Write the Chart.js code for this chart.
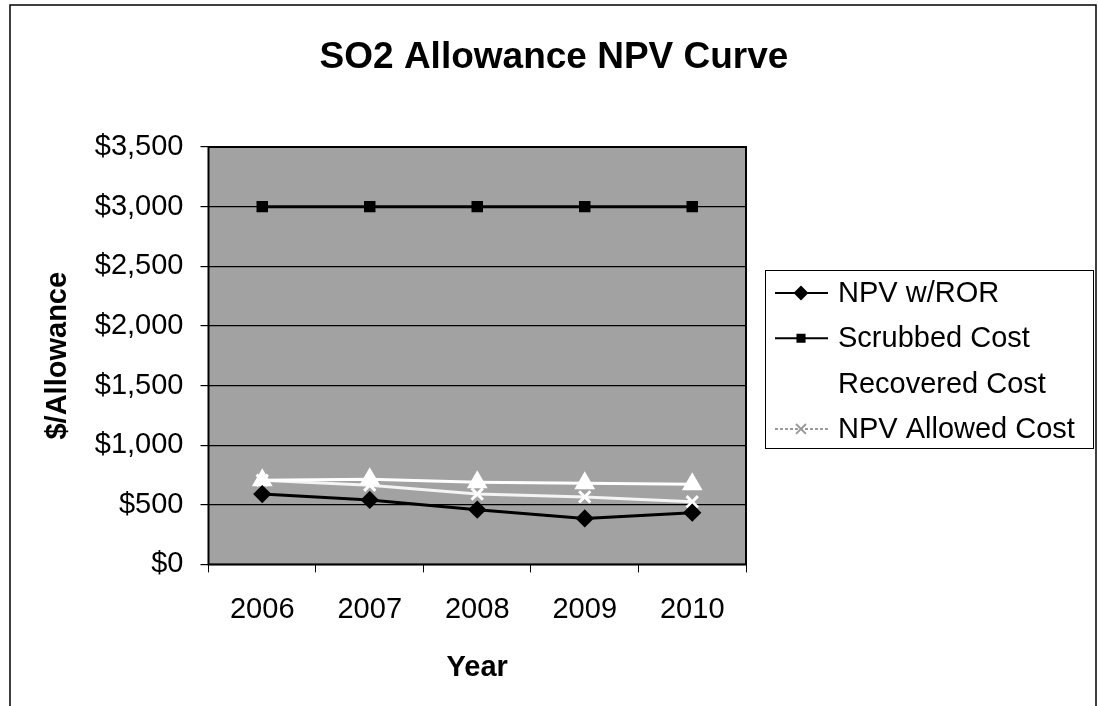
<!DOCTYPE html>
<html>
<head>
<meta charset="utf-8">
<script src="https://cdn.jsdelivr.net/npm/chart.js@4.4.1/dist/chart.umd.min.js"></script>
<style>
  html, body { margin: 0; padding: 0; background: #ffffff; }
  #wrap { width: 1099px; height: 706px; }
</style>
</head>
<body>
<div id="wrap"><canvas id="npvChart" width="1099" height="706"></canvas></div>
<script>
// values
const years = ['2006', '2007', '2008', '2009', '2010'];
const npvWithRor = [590, 541, 459, 385, 434];
const scrubbedCost = [3000, 3000, 3000, 3000, 3000];
const recoveredCost = [705, 713, 689, 680, 672];
const npvAllowedCost = [705, 664, 590, 566, 525];
const yTicks = [0, 500, 1000, 1500, 2000, 2500, 3000, 3500];

const FONT = '"Liberation Sans", Arial, Helvetica, sans-serif';

function money(v) {
    return '$' + v.toLocaleString('en-US');
}

// gray plot area, frame, title and the boxed legend
const decorPlugin = {
    id: 'decor',
    beforeDraw(chart) {
        const ctx = chart.ctx;
        const a = chart.chartArea;
        ctx.save();
        ctx.fillStyle = '#ffffff';
        ctx.fillRect(0, 0, chart.width, chart.height);
        ctx.fillStyle = '#a2a2a2';
        ctx.fillRect(a.left, a.top, a.right - a.left, a.bottom - a.top);
        ctx.restore();
    },
    afterDraw(chart) {
        const ctx = chart.ctx;
        const a = chart.chartArea;
        ctx.save();

        // plot border
        ctx.strokeStyle = '#000000';
        ctx.lineWidth = 2;
        ctx.strokeRect(a.left, a.top, a.right - a.left, a.bottom - a.top);

        // outer frame
        ctx.lineWidth = 1.5;
        ctx.beginPath();
        ctx.moveTo(10, 706);
        ctx.lineTo(10, 5);
        ctx.lineTo(1096, 5);
        ctx.lineTo(1096, 706);
        ctx.stroke();

        // title
        ctx.fillStyle = '#000000';
        ctx.font = 'bold 37px ' + FONT;
        ctx.textAlign = 'center';
        ctx.textBaseline = 'alphabetic';
        ctx.fillText('SO2 Allowance NPV Curve', 554, 68);

        // legend
        ctx.lineWidth = 1;
        ctx.strokeStyle = '#000000';
        ctx.strokeRect(765.5, 270.5, 328, 178);
        ctx.font = '29px ' + FONT;
        ctx.textAlign = 'left';
        ctx.textBaseline = 'middle';
        chart.data.datasets.forEach((ds, i) => {
            const y = 293 + i * 45.3;
            ctx.strokeStyle = ds.legendColor;
            ctx.fillStyle = ds.legendColor;
            ctx.lineWidth = 2;
            ctx.setLineDash(ds.legendDash || []);
            ctx.beginPath();
            ctx.moveTo(775, y);
            ctx.lineTo(828, y);
            ctx.stroke();
            ctx.setLineDash([]);
            Chart.helpers.drawPoint(ctx, {
                pointStyle: ds.pointStyle,
                radius: ds.pointRadius - 1,
                rotation: 0,
                borderWidth: 1.5
            }, 801, y);
            ctx.fillStyle = '#000000';
            ctx.fillText(ds.label, 838, y + 1);
        });
        ctx.restore();
    }
};

const datasets = [
    {
        label: 'NPV w/ROR',
        data: npvWithRor,
        borderColor: '#000000',
        backgroundColor: '#000000',
        borderWidth: 3,
        pointStyle: 'rectRot',
        pointRadius: 7,
        pointBorderColor: '#000000',
        pointBackgroundColor: '#000000',
        legendColor: '#000000'
    },
    {
        label: 'Scrubbed Cost',
        data: scrubbedCost,
        borderColor: '#000000',
        backgroundColor: '#000000',
        borderWidth: 3,
        pointStyle: 'rect',
        pointRadius: 6,
        pointBorderColor: '#000000',
        pointBackgroundColor: '#000000',
        legendColor: '#000000'
    },
    {
        label: 'Recovered Cost',
        data: recoveredCost,
        borderColor: '#ffffff',
        backgroundColor: '#ffffff',
        borderWidth: 3,
        pointStyle: 'triangle',
        pointRadius: 9,
        pointBorderColor: '#ffffff',
        pointBackgroundColor: '#ffffff',
        legendColor: '#ffffff'
    },
    {
        label: 'NPV Allowed Cost',
        data: npvAllowedCost,
        borderColor: '#f4f4f4',
        backgroundColor: '#f4f4f4',
        borderWidth: 3,
        pointStyle: 'crossRot',
        pointRadius: 8,
        pointBorderWidth: 3,
        pointBorderColor: '#ffffff',
        pointBackgroundColor: '#ffffff',
        legendColor: '#9a9a9a',
        legendDash: [3, 2]
    }
];

const chart = new Chart(document.getElementById('npvChart'), {
    type: 'line',
    data: { labels: years, datasets: datasets },
    options: {
        responsive: false,
        animation: false,
        devicePixelRatio: 1,
        layout: {
            padding: { top: 147, left: 39, right: 353, bottom: 21 }
        },
        plugins: {
            legend: { display: false },
            title: { display: false },
            tooltip: { enabled: false }
        },
        elements: {
            line: { tension: 0 }
        },
        scales: {
            x: {
                offset: true,
                grid: {
                    offset: true,
                    drawOnChartArea: false,
                    drawTicks: true,
                    tickLength: 8,
                    color: '#000000'
                },
                border: { display: false },
                ticks: {
                    color: '#000000',
                    padding: 20,
                    font: { family: FONT, size: 29 }
                },
                title: {
                    display: true,
                    text: 'Year',
                    color: '#000000',
                    padding: { top: 3, bottom: 0 },
                    font: { family: FONT, size: 29, weight: 'bold' }
                }
            },
            y: {
                min: 0,
                max: 3500,
                afterBuildTicks(axis) {
                    axis.ticks = yTicks.map(v => ({ value: v }));
                },
                grid: {
                    color: '#000000',
                    lineWidth: 1.2,
                    drawTicks: true,
                    tickLength: 8
                },
                border: { display: false },
                ticks: {
                    color: '#000000',
                    padding: 17,
                    font: { family: FONT, size: 29 },
                    callback: v => money(v)
                },
                title: {
                    display: true,
                    text: '$/Allowance',
                    color: '#000000',
                    padding: { top: 2, bottom: 2 },
                    font: { family: FONT, size: 29, weight: 'bold' }
                }
            }
        }
    },
    plugins: [decorPlugin]
});
</script>
</body>
</html>
